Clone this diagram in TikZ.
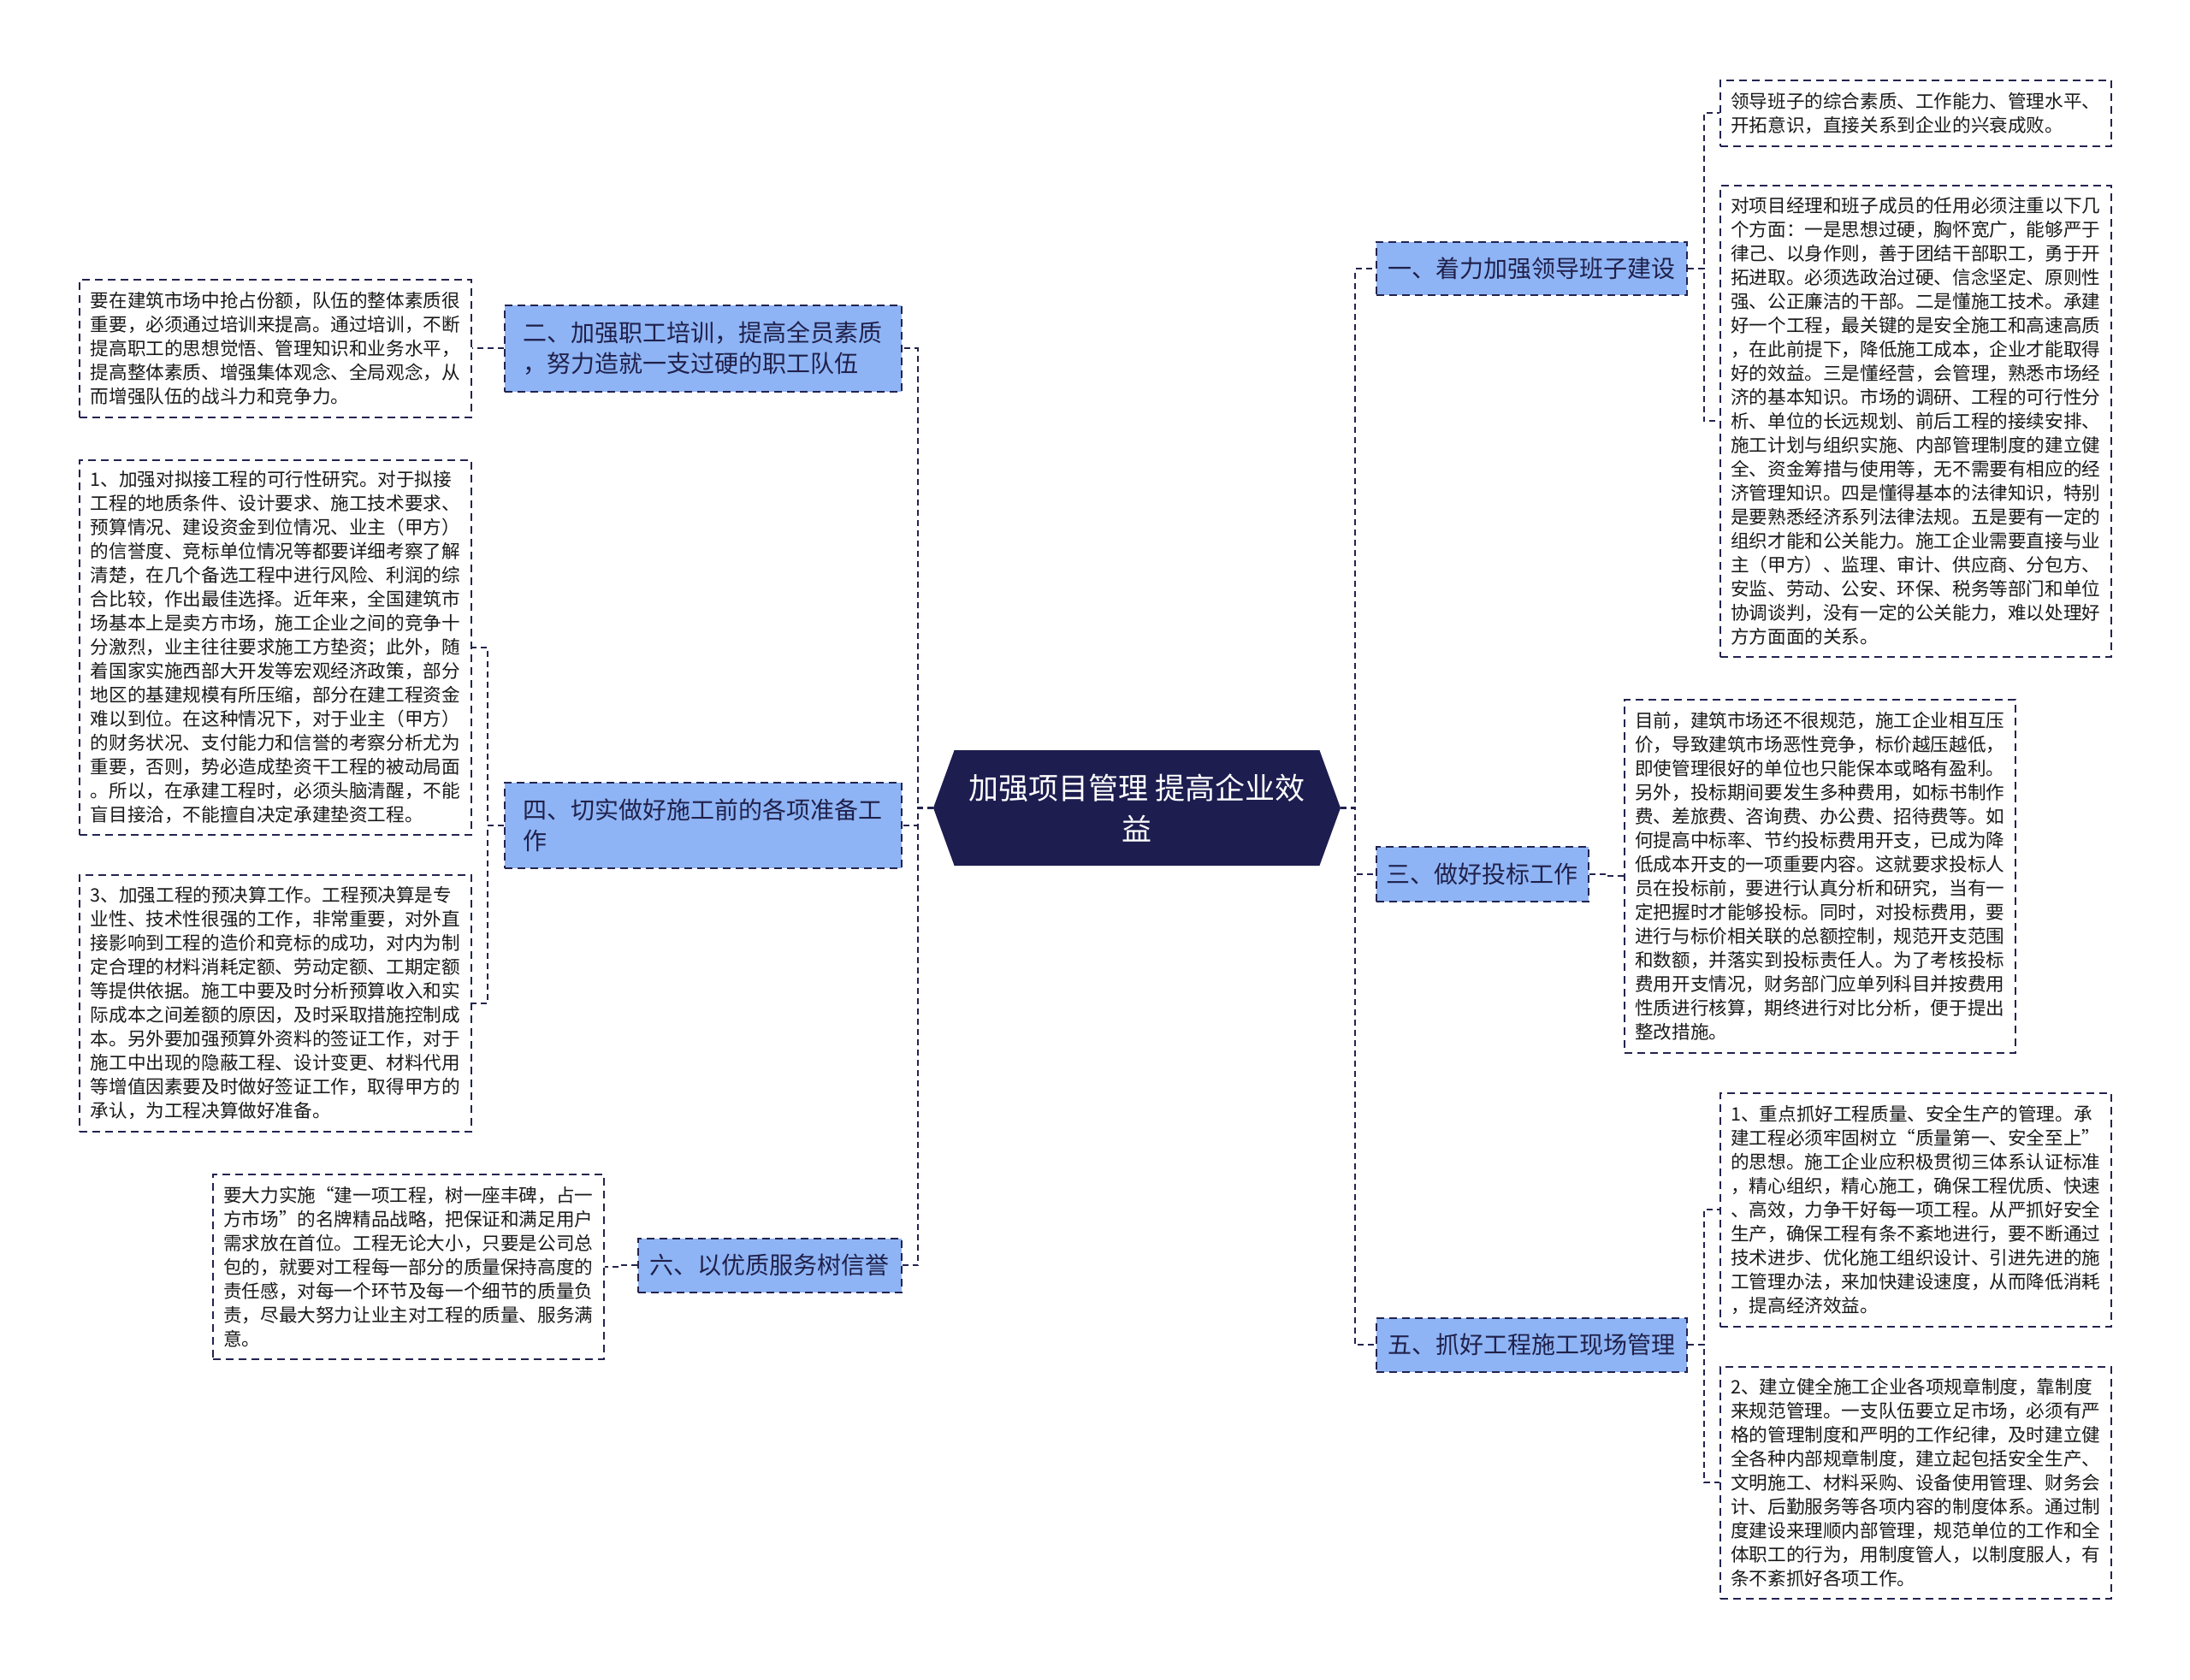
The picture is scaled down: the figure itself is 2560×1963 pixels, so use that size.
\documentclass[tikz,border=0pt]{standalone}
\usepackage{fontspec}
\setmainfont{Noto Sans CJK SC}
\usetikzlibrary{shapes.symbols}
\definecolor{linec}{HTML}{23234F}
\definecolor{navyc}{HTML}{1D1D50}
\definecolor{bluec}{HTML}{8EB4F5}
\definecolor{textc}{HTML}{1A1A1A}
\definecolor{btext}{HTML}{20204A}
\newcommand\leaffont{\fontsize{21.6}{28}\selectfont}
\newcommand\branchfont{\fontsize{28}{36}\selectfont}
\newcommand\centerfont{\fontsize{35}{48}\selectfont}
\tikzset{
  leaf/.style={draw=linec, line width=1.6pt, dash pattern=on 9pt off 6pt, fill=white,
    font=\leaffont, text=textc, align=left, inner sep=0pt, anchor=north west},
  branch/.style={draw=linec, line width=1.6pt, dash pattern=on 9pt off 6pt, fill=bluec,
    font=\branchfont, text=btext, align=left, inner sep=0pt, anchor=north west},
  conn/.style={draw=linec, line width=2.2pt, dash pattern=on 7pt off 5pt},
}
\begin{document}
\begin{tikzpicture}[x=1pt,y=-1pt]
\useasboundingbox (0,0) rectangle (2560,1963);
\fill[white] (0,0) rectangle (2560,1963);

% center
\node[shape=signal, signal to=west and east, signal pointer angle=140, fill=navyc,
  minimum width=476pt, minimum height=135pt, inner sep=0pt, text=white,
  font=\centerfont, align=center] (c) at (1329,944.5) {加强项目管理 提高企业效\\益};

% branches
\node[branch, minimum width=363pt, minimum height=62pt] (b1) at (1608,282) {一、着力加强领导班子建设};
\node[branch, minimum width=248pt, minimum height=64pt] (b3) at (1608,989) {三、做好投标工作};
\node[branch, minimum width=363pt, minimum height=63pt] (b5) at (1608,1540) {五、抓好工程施工现场管理};
\node[branch, minimum width=464pt, minimum height=101pt] (b2) at (589,356) {二、加强职工培训，提高全员素质\\，努力造就一支过硬的职工队伍};
\node[branch, minimum width=464pt, minimum height=100pt] (b4) at (589,914) {四、切实做好施工前的各项准备工\\作};
\node[branch, minimum width=308pt, minimum height=63pt] (b6) at (745,1447) {六、以优质服务树信誉};

% leaves right
\node[leaf, minimum width=457pt, minimum height=77pt] (r1) at (2010,93) {领导班子的综合素质、工作能力、管理水平、\\开拓意识，直接关系到企业的兴衰成败。};
\node[leaf, minimum width=457pt, minimum height=551pt] (r2) at (2010,216) {对项目经理和班子成员的任用必须注重以下几\\个方面：一是思想过硬，胸怀宽广，能够严于\\律己、以身作则，善于团结干部职工，勇于开\\拓进取。必须选政治过硬、信念坚定、原则性\\强、公正廉洁的干部。二是懂施工技术。承建\\好一个工程，最关键的是安全施工和高速高质\\，在此前提下，降低施工成本，企业才能取得\\好的效益。三是懂经营，会管理，熟悉市场经\\济的基本知识。市场的调研、工程的可行性分\\析、单位的长远规划、前后工程的接续安排、\\施工计划与组织实施、内部管理制度的建立健\\全、资金筹措与使用等，无不需要有相应的经\\济管理知识。四是懂得基本的法律知识，特别\\是要熟悉经济系列法律法规。五是要有一定的\\组织才能和公关能力。施工企业需要直接与业\\主（甲方）、监理、审计、供应商、分包方、\\安监、劳动、公安、环保、税务等部门和单位\\协调谈判，没有一定的公关能力，难以处理好\\方方面面的关系。};
\node[leaf, minimum width=457pt, minimum height=413pt] (r3) at (1898,817) {目前，建筑市场还不很规范，施工企业相互压\\价，导致建筑市场恶性竞争，标价越压越低，\\即使管理很好的单位也只能保本或略有盈利。\\另外，投标期间要发生多种费用，如标书制作\\费、差旅费、咨询费、办公费、招待费等。如\\何提高中标率、节约投标费用开支，已成为降\\低成本开支的一项重要内容。这就要求投标人\\员在投标前，要进行认真分析和研究，当有一\\定把握时才能够投标。同时，对投标费用，要\\进行与标价相关联的总额控制，规范开支范围\\和数额，并落实到投标责任人。为了考核投标\\费用开支情况，财务部门应单列科目并按费用\\性质进行核算，期终进行对比分析，便于提出\\整改措施。};
\node[leaf, minimum width=457pt, minimum height=273pt] (r4) at (2010,1277) {1、重点抓好工程质量、安全生产的管理。承\\建工程必须牢固树立“质量第一、安全至上”\\的思想。施工企业应积极贯彻三体系认证标准\\，精心组织，精心施工，确保工程优质、快速\\、高效，力争干好每一项工程。从严抓好安全\\生产，确保工程有条不紊地进行，要不断通过\\技术进步、优化施工组织设计、引进先进的施\\工管理办法，来加快建设速度，从而降低消耗\\，提高经济效益。};
\node[leaf, minimum width=457pt, minimum height=271pt] (r5) at (2010,1597) {2、建立健全施工企业各项规章制度，靠制度\\来规范管理。一支队伍要立足市场，必须有严\\格的管理制度和严明的工作纪律，及时建立健\\全各种内部规章制度，建立起包括安全生产、\\文明施工、材料采购、设备使用管理、财务会\\计、后勤服务等各项内容的制度体系。通过制\\度建设来理顺内部管理，规范单位的工作和全\\体职工的行为，用制度管人，以制度服人，有\\条不紊抓好各项工作。};

% leaves left
\node[leaf, minimum width=458pt, minimum height=161pt] (l1) at (92,326) {要在建筑市场中抢占份额，队伍的整体素质很\\重要，必须通过培训来提高。通过培训，不断\\提高职工的思想觉悟、管理知识和业务水平，\\提高整体素质、增强集体观念、全局观念，从\\而增强队伍的战斗力和竞争力。};
\node[leaf, minimum width=458pt, minimum height=438pt] (l2) at (92,537) {1、加强对拟接工程的可行性研究。对于拟接\\工程的地质条件、设计要求、施工技术要求、\\预算情况、建设资金到位情况、业主（甲方）\\的信誉度、竞标单位情况等都要详细考察了解\\清楚，在几个备选工程中进行风险、利润的综\\合比较，作出最佳选择。近年来，全国建筑市\\场基本上是卖方市场，施工企业之间的竞争十\\分激烈，业主往往要求施工方垫资；此外，随\\着国家实施西部大开发等宏观经济政策，部分\\地区的基建规模有所压缩，部分在建工程资金\\难以到位。在这种情况下，对于业主（甲方）\\的财务状况、支付能力和信誉的考察分析尤为\\重要，否则，势必造成垫资干工程的被动局面\\。所以，在承建工程时，必须头脑清醒，不能\\盲目接洽，不能擅自决定承建垫资工程。};
\node[leaf, minimum width=458pt, minimum height=300pt] (l3) at (92,1022) {3、加强工程的预决算工作。工程预决算是专\\业性、技术性很强的工作，非常重要，对外直\\接影响到工程的造价和竞标的成功，对内为制\\定合理的材料消耗定额、劳动定额、工期定额\\等提供依据。施工中要及时分析预算收入和实\\际成本之间差额的原因，及时采取措施控制成\\本。另外要加强预算外资料的签证工作，对于\\施工中出现的隐蔽工程、设计变更、材料代用\\等增值因素要及时做好签证工作，取得甲方的\\承认，为工程决算做好准备。};
\node[leaf, minimum width=457pt, minimum height=216pt] (l4) at (248,1372) {要大力实施“建一项工程，树一座丰碑，占一\\方市场”的名牌精品战略，把保证和满足用户\\需求放在首位。工程无论大小，只要是公司总\\包的，就要对工程每一部分的质量保持高度的\\责任感，对每一个环节及每一个细节的质量负\\责，尽最大努力让业主对工程的质量、服务满\\意。};

% connectors center
\draw[conn] (c.east) -- ++(17,0) |- (b1.west);
\draw[conn] (c.east) -- ++(17,0) |- (b3.west);
\draw[conn] (c.east) -- ++(17,0) |- (b5.west);
\draw[conn] (c.west) -- ++(-18,0) |- (b2.east);
\draw[conn] (c.west) -- ++(-18,0) |- (b4.east);
\draw[conn] (c.west) -- ++(-18,0) |- (b6.east);
% connectors branches
\draw[conn] (b1.east) -- ++(19,0) |- (r1.west);
\draw[conn] (b1.east) -- ++(19,0) |- (r2.west);
\draw[conn] (b3.east) -- ++(21,0) |- (r3.west);
\draw[conn] (b5.east) -- ++(19,0) |- (r4.west);
\draw[conn] (b5.east) -- ++(19,0) |- (r5.west);
\draw[conn] (b2.west) -- ++(-19,0) |- (l1.east);
\draw[conn] (b4.west) -- ++(-19,0) |- (l2.east);
\draw[conn] (b4.west) -- ++(-19,0) |- (l3.east);
\draw[conn] (b6.west) -- ++(-20,0) |- (l4.east);
\end{tikzpicture}
\end{document}
